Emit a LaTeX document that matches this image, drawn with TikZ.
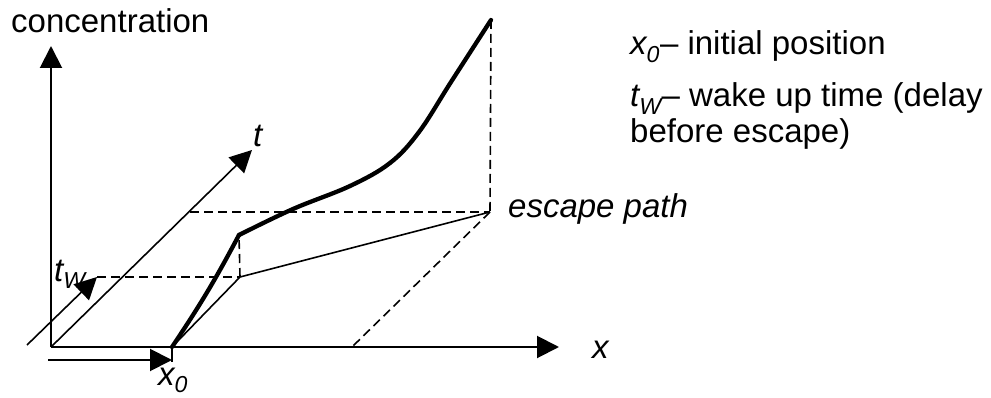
\documentclass[tikz,border=0pt]{standalone}
\usepackage{fontspec}
\setmainfont{Liberation Sans}
\usetikzlibrary{arrows.meta}
\tikzset{
  axis/.style={line width=2pt,-{Triangle[length=22pt,width=22pt]}},
  thin axis/.style={line width=1.6pt,-{Triangle[length=22pt,width=22pt]}},
  guide/.style={line width=1.6pt},
  dashline/.style={line width=1.6pt,dash pattern=on 9pt off 5pt},
  pathline/.style={line width=4.3pt,line join=round,line cap=round},
  lbl/.style={font=\fontsize{33}{38}\selectfont,inner sep=0pt,anchor=base west},
}
\begin{document}
\begin{tikzpicture}[x=1pt,y=-1pt]
\useasboundingbox (0,0) rectangle (991,398);
% key points
\coordinate (O) at (51,347);
\coordinate (Ctop) at (51,46);
\coordinate (Xend) at (559,347);
\coordinate (Tend) at (252,150);
\coordinate (W0) at (27,345);
\coordinate (W1) at (97,277);
\coordinate (X0) at (172,347);
\coordinate (X0b) at (172,362);
\coordinate (X0a) at (172,360);
\coordinate (Xa) at (48,360);
\coordinate (A) at (240,277);
\coordinate (B) at (239,235);
\coordinate (E) at (490,212);
\coordinate (T) at (491,20);
\coordinate (Eb) at (352,347);
\coordinate (Ta) at (190,212);
% axes
\draw[axis] (O) -- (Ctop);
\draw[axis] (O) -- (Xend);
\draw[thin axis] (O) -- (Tend);
\draw[thin axis] (W0) -- (W1);
\draw[axis] (Xa) -- (X0a);
\draw[guide] (X0) -- (X0b);
% projections
\draw[guide] (X0) -- (A) -- (E);
\draw[dashline] (W1) -- (A);
\draw[dashline] (A) -- (B);
\draw[dashline] (Ta) -- (E);
\draw[dashline] (T) -- (E);
\draw[dashline] (E) -- (Eb);
% escape curve
\draw[pathline] (X0) to[bend right=3] (B);
\draw[pathline] plot[smooth,tension=0.6] coordinates {(239,235) (293,209) (350,186) (390,163) (419,132) (451,82) (491,20)};
% labels
\node[lbl] (conc) at (11,33) {concentration};
\node[lbl] (tl) at (253,147) {\itshape t};
\node[lbl] (xl) at (592,358) {\itshape x};
\node[lbl] (twl) at (54,281) {\itshape t\textsubscript{W}};
\node[lbl] (x0l) at (158,385) {\itshape x\textsubscript{0}};
\node[lbl] (esc) at (508,218) {\itshape escape path};
\node[lbl] (k1) at (630,55) {\textit{x\textsubscript{0}}– initial position};
\node[lbl] (k2) at (630,107) {\textit{t\textsubscript{W}}– wake up time (delay};
\node[lbl] (k3) at (630,143) {before escape)};
\end{tikzpicture}
\end{document}
